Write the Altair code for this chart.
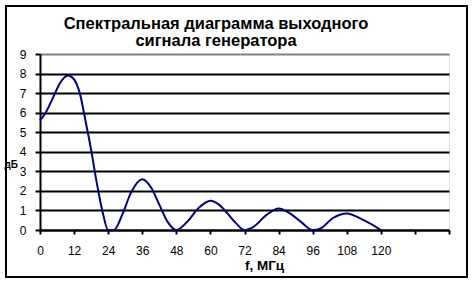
import altair as alt
import pandas as pd

freq = [0, 2, 5, 7, 10, 12, 14, 16, 18, 20, 22, 24, 26, 29, 32, 36, 39, 42, 45, 48,
        52, 56, 60, 63, 66, 69, 72, 75, 80, 84, 88, 92, 96, 99, 103, 108, 114, 120]
level = [5.6, 6.0, 6.9, 7.5, 7.9, 7.7, 7.0, 5.6, 4.1, 2.4, 0.95, 0.0, 0.0, 0.8, 1.9, 2.6, 2.2, 1.3, 0.4, 0.0,
         0.45, 1.15, 1.5, 1.3, 0.85, 0.35, 0.0, 0.15, 0.8, 1.1, 0.85, 0.4, 0.0, 0.1, 0.6, 0.85, 0.5, 0.0]

x_ticks = [0, 12, 24, 36, 48, 60, 72, 84, 96, 108, 120, 132, 144]
y_ticks = [0, 1, 2, 3, 4, 5, 6, 7, 8, 9]

title_lines = ["Спектральная диаграмма выходного", "сигнала генератора"]

df = pd.DataFrame({"f": freq, "v": level})

FONT = "Liberation Sans"

line = alt.Chart(df).mark_line(color="#000080", strokeWidth=2, interpolate="monotone").encode(
    x=alt.X("f:Q",
            scale=alt.Scale(domain=[0, 144], nice=False, zero=False),
            axis=alt.Axis(values=x_ticks, grid=False,
                          labelExpr="datum.value <= 120 ? datum.label : ''",
                          domainColor="black", domainWidth=2,
                          tickColor="black", tickWidth=2, tickSize=4,
                          labelPadding=11, labelFont=FONT, labelFontSize=12, labelColor="black",
                          labelFlush=False, labelOverlap=False,
                          title="f, МГц", titleFont=FONT, titleFontSize=13.5, titleFontWeight="bold",
                          titleColor="black", titleX=224, titleY=39, titleAlign="center",
                          titleBaseline="alphabetic")),
    y=alt.Y("v:Q",
            scale=alt.Scale(domain=[0, 9], nice=False),
            axis=alt.Axis(values=y_ticks, grid=True,
                          gridColor=alt.condition("datum.value == 9", alt.value("#808080"), alt.value("black")),
                          gridWidth=2,
                          domainColor="black", domainWidth=2,
                          tickColor="black", tickWidth=2, tickSize=5,
                          labelPadding=9, labelFont=FONT, labelFontSize=12, labelColor="black",
                          labelFlush=False, labelOverlap=False,
                          title="дБ", titleFont=FONT, titleFontSize=10, titleFontWeight="bold",
                          titleColor="black", titleAngle=0, titleX=-36, titleY=110,
                          titleAlign="left", titleBaseline="middle")),
)

frame = alt.Chart(alt.Data(values=[{}])).mark_rect(filled=False, stroke="black", strokeWidth=2).encode(
    x=alt.value(-34), x2=alt.value(427), y=alt.value(-48), y2=alt.value(223)
)

title1 = alt.Chart(alt.Data(values=[{}])).mark_text(
    font=FONT, fontSize=16.5, fontWeight="bold", color="black", align="center", baseline="alphabetic"
).encode(text=alt.value(title_lines[0]), x=alt.value(176), y=alt.value(-25))

title2 = alt.Chart(alt.Data(values=[{}])).mark_text(
    font=FONT, fontSize=16.5, fontWeight="bold", color="black", align="center", baseline="alphabetic"
).encode(text=alt.value(title_lines[1]), x=alt.value(176), y=alt.value(-8))

chart = alt.layer(frame, line, title1, title2).properties(
    width=409, height=176,
    autosize=alt.AutoSizeParams(type="none"),
    padding={"left": 40, "top": 54, "right": 24, "bottom": 52},
).configure_view(fill="#C0C0C0", stroke="#808080", strokeWidth=2).configure(background="white")

chart.save("out.html", embed_options={"renderer": "svg", "actions": False})
